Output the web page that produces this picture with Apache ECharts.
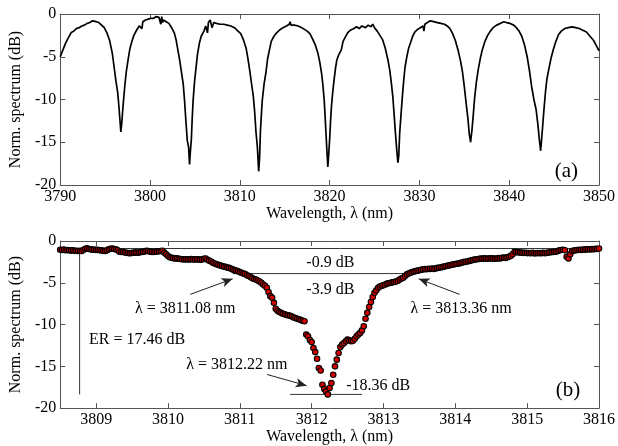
<!DOCTYPE html>
<html>
<head>
<meta charset="utf-8">
<script src="https://cdn.jsdelivr.net/npm/echarts@6/dist/echarts.min.js"></script>
<style>
  html, body { margin: 0; padding: 0; background: #fff; }
  #chart { width: 618px; height: 446px; }
</style>
</head>
<body>
<div id="chart"></div>
<script>
// ---- panel (a): full spectrum, [wavelength nm, dB]
var spectrumA = [
  [3790.0, -5.0], [3790.3, -4.2], [3790.6, -3.4], [3790.9, -2.8], [3791.2, -2.2], [3791.5, -2.0],
  [3791.8, -1.7], [3792.1, -1.6], [3792.4, -1.4], [3792.7, -1.3], [3793.0, -1.1], [3793.3, -1.0],
  [3793.6, -0.8], [3793.8, -0.6], [3794.0, -0.9], [3794.3, -1.0], [3794.6, -1.3], [3794.9, -1.6],
  [3795.2, -2.2], [3795.5, -3.1], [3795.8, -4.6], [3796.0, -6.2], [3796.2, -7.8], [3796.4, -9.2],
  [3796.55, -11.0], [3796.65, -12.4], [3796.75, -13.8], [3796.85, -12.8], [3796.95, -11.4],
  [3797.05, -10.1], [3797.2, -8.3], [3797.35, -6.8], [3797.55, -5.4], [3797.75, -4.1],
  [3797.95, -3.3], [3798.2, -2.5], [3798.5, -1.9], [3798.8, -1.4], [3799.0, -1.2], [3799.1, -1.7],
  [3799.2, -0.9], [3799.5, -0.7], [3799.8, -0.6], [3800.1, -0.5], [3800.4, -0.5], [3800.7, -0.3],
  [3801.0, -0.4], [3801.2, -1.2], [3801.3, -0.3], [3801.4, -1.0], [3801.5, -0.7], [3801.8, -0.9],
  [3802.1, -1.1], [3802.4, -1.6], [3802.7, -2.2], [3802.9, -3.0], [3803.1, -4.2], [3803.3, -5.4],
  [3803.5, -6.8], [3803.7, -8.2], [3803.85, -10.2], [3804.0, -12.6], [3804.15, -14.8],
  [3804.3, -15.6], [3804.4, -17.6], [3804.5, -16.0], [3804.6, -14.7], [3804.7, -12.2],
  [3804.8, -10.1], [3804.95, -8.0], [3805.1, -6.5], [3805.3, -4.6], [3805.5, -3.4], [3805.7, -2.6],
  [3805.9, -2.8], [3806.0, -2.0], [3806.2, -1.4], [3806.4, -2.2], [3806.5, -1.0], [3806.7, -0.7],
  [3806.9, -1.6], [3807.1, -1.0], [3807.4, -1.1], [3807.8, -1.2], [3808.2, -1.2], [3808.6, -1.3],
  [3809.0, -1.4], [3809.4, -1.6], [3809.8, -2.0], [3810.1, -2.3], [3810.4, -3.0], [3810.7, -4.0],
  [3810.9, -5.2], [3811.1, -6.6], [3811.3, -8.1], [3811.5, -9.6], [3811.65, -11.4],
  [3811.8, -13.8], [3811.95, -15.5], [3812.1, -18.4], [3812.2, -16.8], [3812.3, -13.6],
  [3812.4, -11.8], [3812.5, -10.1], [3812.7, -8.2], [3812.9, -6.9], [3813.1, -5.2], [3813.3, -4.2],
  [3813.5, -3.2], [3813.8, -2.6], [3814.1, -2.2], [3814.4, -1.9], [3814.8, -1.6], [3815.2, -1.4],
  [3815.5, -1.2], [3815.6, -0.9], [3815.7, -1.3], [3816.1, -1.3], [3816.5, -1.4], [3816.9, -1.6],
  [3817.2, -1.8], [3817.5, -2.0], [3817.8, -2.3], [3818.1, -2.9], [3818.4, -3.6], [3818.7, -4.6],
  [3818.9, -5.6], [3819.1, -6.9], [3819.25, -8.3], [3819.4, -10.1], [3819.5, -12.0],
  [3819.6, -14.0], [3819.7, -16.0], [3819.8, -17.9], [3819.9, -16.4], [3820.0, -14.7],
  [3820.1, -12.6], [3820.2, -10.9], [3820.35, -9.1], [3820.5, -7.7], [3820.65, -6.4],
  [3820.8, -5.4], [3821.0, -4.8], [3821.3, -4.2], [3821.5, -3.2], [3821.7, -2.8], [3822.0, -2.2],
  [3822.3, -1.9], [3822.7, -1.7], [3823.0, -1.5], [3823.3, -1.7], [3823.6, -1.4], [3824.0, -1.6],
  [3824.3, -1.3], [3824.6, -1.5], [3824.8, -1.2], [3825.0, -1.6], [3825.3, -2.0], [3825.6, -2.5],
  [3825.9, -3.0], [3826.2, -4.0], [3826.5, -5.4], [3826.7, -6.6], [3826.9, -8.3], [3827.05, -9.8],
  [3827.2, -12.0], [3827.35, -14.2], [3827.5, -16.2], [3827.6, -17.4], [3827.7, -16.6],
  [3827.8, -14.0], [3827.95, -11.8], [3828.1, -9.7], [3828.25, -7.8], [3828.4, -6.2],
  [3828.6, -5.0], [3828.8, -4.0], [3829.0, -3.4], [3829.25, -2.6], [3829.5, -2.1], [3829.8, -1.8],
  [3830.1, -1.6], [3830.4, -1.4], [3830.5, -2.0], [3830.6, -1.2], [3830.9, -1.0], [3831.2, -0.8],
  [3831.6, -0.9], [3832.0, -1.0], [3832.4, -1.1], [3832.8, -1.2], [3833.1, -1.4], [3833.4, -1.7],
  [3833.7, -2.3], [3834.0, -3.1], [3834.3, -4.2], [3834.6, -5.6], [3834.8, -6.8], [3835.0, -8.5],
  [3835.2, -10.4], [3835.4, -12.2], [3835.55, -14.0], [3835.7, -15.0], [3835.85, -13.6],
  [3836.0, -11.8], [3836.15, -9.8], [3836.35, -7.9], [3836.55, -6.5], [3836.8, -5.1],
  [3837.0, -4.2], [3837.3, -3.2], [3837.6, -2.5], [3837.9, -2.0], [3838.2, -1.6], [3838.6, -1.3],
  [3839.0, -1.1], [3839.4, -0.9], [3839.7, -1.0], [3840.1, -1.1], [3840.5, -1.3], [3840.8, -1.6],
  [3841.1, -2.0], [3841.4, -2.6], [3841.7, -3.6], [3842.0, -5.0], [3842.25, -6.6], [3842.5, -8.5],
  [3842.75, -10.0], [3843.0, -11.2], [3843.2, -13.0], [3843.35, -14.6], [3843.5, -16.0],
  [3843.6, -14.8], [3843.75, -12.8], [3843.9, -10.8], [3844.05, -9.0], [3844.2, -7.6],
  [3844.4, -6.5], [3844.65, -5.2], [3844.9, -4.2], [3845.2, -3.2], [3845.5, -2.4], [3845.8, -2.0],
  [3846.2, -1.7], [3846.6, -1.6], [3847.0, -1.5], [3847.4, -1.6], [3847.8, -1.7], [3848.2, -1.9],
  [3848.6, -2.1], [3849.0, -2.6], [3849.4, -3.1], [3849.7, -3.7], [3850.0, -4.3]
];

// ---- panel (b): measured points, one every 0.025 nm from 3808.5 nm
var startB = 3808.5;
var stepB = 0.025;
var specB = [
  -1.05, -1.08, -1.02, -1.10, -1.07, -1.12, -1.15, -1.10, -1.18, -1.16,
  -1.20, -1.17, -1.19, -1.05, -0.92, -0.88, -0.95, -1.00, -1.05, -1.02,
  -1.07, -1.05, -1.12, -1.10, -1.18, -1.20, -1.12, -1.00, -0.92, -0.90,
  -0.95, -1.00, -1.10, -1.28, -1.32, -1.30, -1.38, -1.40, -1.45, -1.46,
  -1.42, -1.40, -1.36, -1.40, -1.38, -1.32, -1.30, -1.25, -1.18, -1.20,
  -1.28, -1.30, -1.32, -1.28, -1.25, -1.22, -1.20, -1.18, -1.40, -1.60,
  -1.80, -1.95, -2.00, -2.05, -2.10, -2.08, -2.12, -2.15, -2.18, -2.20,
  -2.18, -2.22, -2.20, -2.15, -2.20, -2.22, -2.18, -2.20, -2.25, -2.20,
  -2.12, -2.10, -2.25, -2.35, -2.45, -2.60, -2.70, -2.78, -2.85, -2.92,
  -3.00, -3.05, -3.10, -3.18, -3.22, -3.30, -3.40, -3.48, -3.55, -3.62,
  -3.72, -3.80, -3.90, -3.95, -4.10, -4.20, -4.30, -4.45, -4.55, -4.62,
  -4.72, -4.85, -5.00, -5.20, -5.35, -5.60, -6.10, -6.60, -6.80, -7.40,
  -8.10, -8.35, -8.50, -8.60, -8.70, -8.78, -8.85, -8.90, -8.95, -9.05,
  -9.15, -9.22, -9.30, -9.38, -9.45, -9.55, -9.60, -11.20, -11.40, -11.85,
  -12.10, -12.80, -13.30, -14.10, -15.20, -15.50, -17.20, -17.70, -18.00, -18.36,
  -17.60, -17.00, -16.00, -15.00, -14.20, -13.40, -12.70, -12.40, -12.20, -12.00,
  -11.80, -11.90, -12.00, -11.95, -11.70, -11.40, -11.20, -11.00, -10.70, -10.20,
  -9.30, -8.60, -7.90, -7.30, -6.70, -6.20, -5.90, -5.60, -5.45, -5.35,
  -5.30, -5.20, -5.10, -5.05, -5.00, -4.95, -4.90, -4.85, -4.75, -4.60,
  -4.50, -4.40, -4.20, -4.00, -3.90, -3.80, -3.72, -3.65, -3.60, -3.55,
  -3.50, -3.45, -3.40, -3.35, -3.38, -3.32, -3.35, -3.30, -3.35, -3.28,
  -3.22, -3.20, -3.15, -3.10, -3.05, -3.00, -2.95, -2.90, -2.85, -2.80,
  -2.76, -2.72, -2.68, -2.62, -2.58, -2.50, -2.48, -2.42, -2.38, -2.30,
  -2.26, -2.22, -2.18, -2.15, -2.10, -2.12, -2.08, -2.10, -2.12, -2.06,
  -2.10, -2.08, -2.12, -2.10, -2.05, -2.08, -2.00, -1.98, -2.02, -1.95,
  -1.85, -1.78, -1.55, -1.30, -1.32, -1.38, -1.36, -1.40, -1.42, -1.40,
  -1.45, -1.44, -1.46, -1.42, -1.48, -1.46, -1.44, -1.46, -1.45, -1.42,
  -1.46, -1.40, -1.38, -1.35, -1.32, -1.30, -1.28, -1.20, -1.12, -1.07,
  -1.05, -1.10, -1.90, -2.10, -1.60, -1.20, -1.15, -1.10, -1.08, -1.05,
  -1.07, -1.02, -1.05, -1.00, -0.98, -1.02, -0.95, -1.00, -0.92, -0.95,
  -0.90
];

// ticks
var ticksXA = [3790, 3800, 3810, 3820, 3830, 3840, 3850];
var ticksXB = [3809, 3810, 3811, 3812, 3813, 3814, 3815, 3816];
var ticksY = [-20, -15, -10, -5, 0];

// annotation values for (b)
var topLevel = -0.9, halfLevel = -3.9, bottomLevel = -18.36;
var erWave = 3808.77;
var leftWave = 3811.08, rightWave = 3813.36, dipWave = 3812.22;

var FONT = 'Liberation Serif';
var INK = '#000';

function bothAxes(isX, gridIndex, min, max, ticks, showLabels, name) {
    var common = {
        type: 'value', gridIndex: gridIndex, min: min, max: max,
        axisLine: { show: true, onZero: false, lineStyle: { color: '#555', width: 1 } },
        axisTick: { show: true, inside: true, length: 5, customValues: ticks, lineStyle: { color: '#555' } },
        splitLine: { show: false },
        axisLabel: {
            show: showLabels, customValues: ticks, fontFamily: FONT, fontSize: 16, color: INK, margin: 4,
            formatter: function (v) { return String(v); }
        }
    };
    if (showLabels) {
        common.name = name;
        common.nameLocation = 'middle';
        common.nameTextStyle = { fontFamily: FONT, fontSize: 16, color: INK };
        common.nameGap = isX ? 20 : 31;
    }
    return common;
}

var xAxes = [], yAxes = [];
[[0, 3790, 3850, ticksXA], [1, 3808.5, 3816, ticksXB]].forEach(function (g) {
    var bottom = bothAxes(true, g[0], g[1], g[2], g[3], true, 'Wavelength, \u03bb (nm)');
    bottom.position = 'bottom';
    var top = bothAxes(true, g[0], g[1], g[2], g[3], false);
    top.position = 'top';
    xAxes.push(bottom, top);
    var left = bothAxes(false, g[0], -20, 0, ticksY, true, 'Norm. spectrum (dB)');
    left.position = 'left';
    var right = bothAxes(false, g[0], -20, 0, ticksY, false);
    right.position = 'right';
    yAxes.push(left, right);
});

var pointsB = specB.map(function (v, i) {
    return [+(startB + i * stepB).toFixed(3), v];
});

function guide(data) {
    return {
        type: 'line', xAxisIndex: 2, yAxisIndex: 2, data: data,
        showSymbol: false, silent: true,
        lineStyle: { color: '#333', width: 1 }, z: 1
    };
}

function arrow(from, to) {
    return [
        { coord: from, symbol: 'none' },
        { coord: to, symbol: 'arrow', symbolSize: [7, 11] }
    ];
}

function note(x, y, text, align, size) {
    return {
        value: [x, y],
        label: { show: true, position: 'inside', formatter: text, align: align || 'center',
                 fontFamily: FONT, fontSize: size || 16, color: INK }
    };
}

var option = {
    animation: false,
    backgroundColor: '#fff',
    grid: [
        { left: 56, top: 14, width: 545, height: 171 },
        { left: 55, top: 241, width: 546, height: 169 }
    ],
    xAxis: xAxes,
    yAxis: yAxes,
    series: [
        {
            type: 'line', xAxisIndex: 0, yAxisIndex: 0, data: spectrumA,
            showSymbol: false, lineStyle: { color: '#000', width: 1.7 }
        },
        guide([[erWave, topLevel], [3816, topLevel]]),
        guide([[erWave, topLevel], [erWave, bottomLevel]]),
        guide([[3810.9, halfLevel], [3813.38, halfLevel]]),
        guide([[3811.7, bottomLevel], [3812.7, bottomLevel]]),
        {
            type: 'scatter', xAxisIndex: 2, yAxisIndex: 2, data: pointsB,
            symbolSize: 5.5,
            itemStyle: { color: '#d40000', borderColor: '#000', borderWidth: 1.1, opacity: 1 },
            z: 3,
            markLine: {
                silent: true, animation: false,
                lineStyle: { color: '#222', width: 1, type: 'solid' },
                label: { show: false },
                data: [
                    arrow([3810.31, -6.39], [leftWave - 0.18, -4.53]),
                    arrow([3814.06, -6.39], [rightWave + 0.13, -4.53]),
                    arrow([3811.38, -15.98], [dipWave - 0.29, -17.31])
                ]
            }
        },
        {
            type: 'scatter', xAxisIndex: 2, yAxisIndex: 2, symbolSize: 0, silent: true, z: 4,
            itemStyle: { opacity: 1 },
            data: [
                note(3812.26, -2.6, topLevel.toFixed(1) + ' dB'),
                note(3812.26, -5.8, halfLevel.toFixed(1) + ' dB'),
                note(3812.48, -17.36, bottomLevel.toFixed(2) + ' dB', 'left'),
                note(3810.96, -14.76, '\u03bb = ' + dipWave.toFixed(2) + ' nm'),
                note(3810.24, -8.17, '\u03bb = ' + leftWave.toFixed(2) + ' nm'),
                note(3814.08, -8.17, '\u03bb = ' + rightWave.toFixed(2) + ' nm'),
                note(3809.57, -11.8, 'ER = ' + (topLevel - bottomLevel).toFixed(2) + ' dB'),
                note(3815.57, -17.95, '(b)', 'center', 21)
            ]
        },
        {
            type: 'scatter', xAxisIndex: 0, yAxisIndex: 0, symbolSize: 0, silent: true, z: 4,
            itemStyle: { opacity: 1 },
            data: [note(3846.37, -18.44, '(a)', 'center', 21)]
        }
    ]
};

echarts.init(document.getElementById('chart'), null, { renderer: 'canvas' }).setOption(option);
</script>
</body>
</html>
